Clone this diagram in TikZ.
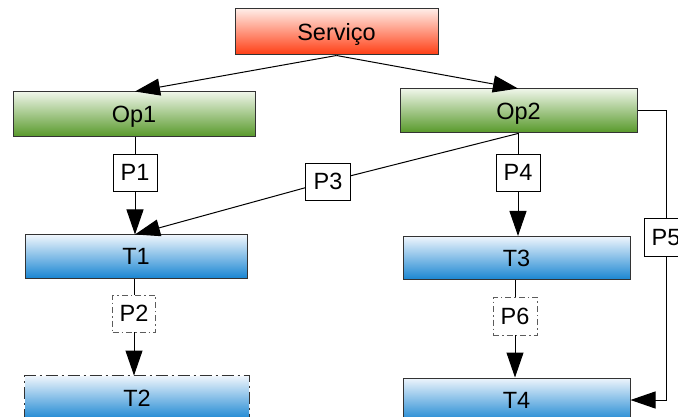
\documentclass[tikz,border=0pt]{standalone}
\usepackage{fontspec}
\setmainfont{Liberation Sans}
\usetikzlibrary{arrows.meta}
\definecolor{redtop}{RGB}{255,236,230}
\definecolor{redbot}{RGB}{255,60,18}
\definecolor{greentop}{RGB}{238,245,232}
\definecolor{greenbot}{RGB}{86,152,40}
\definecolor{bluetop}{RGB}{238,245,252}
\definecolor{bluebot}{RGB}{26,134,210}
\definecolor{edge}{RGB}{51,51,51}
\tikzset{
  capcentre/.style={text height=16.8pt, text depth=0pt},
  box/.style={draw=edge, line width=1pt, minimum height=44pt, inner sep=0pt,
    font=\fontsize{23.5}{28}\selectfont, capcentre, anchor=center},
  srvbox/.style={box, top color=redtop, bottom color=redbot},
  opbox/.style={box, top color=greentop, bottom color=greenbot},
  taskbox/.style={box, top color=bluetop, bottom color=bluebot},
  pbox/.style={draw=black, line width=0.9pt, fill=white, minimum width=44pt,
    minimum height=37pt, inner sep=0pt, font=\fontsize{23.5}{28}\selectfont, capcentre},
  pdash/.style={pbox, draw=edge!80, dash pattern=on 6pt off 3pt on 1.5pt off 3pt},
  link/.style={draw=black, line width=1pt},
  arr/.style={link, -{Triangle[length=25pt,width=17pt]}}
}
\begin{document}
\begin{tikzpicture}[x=1pt,y=-1pt]
  \clip (0,0) rectangle (678,417);
  \useasboundingbox (0,0) rectangle (678,417);

  % process boxes
  \node[srvbox, minimum width=203pt, minimum height=46pt] (srv) at (336.5,32) {Serviço};
  \node[opbox, minimum width=242pt, minimum height=45pt] (op1) at (134,114.5) {Op1};
  \node[opbox, minimum width=237pt] (op2) at (518.5,111) {Op2};
  \node[taskbox, minimum width=222pt, minimum height=43pt] (t1) at (136,256.5) {T1};
  \node[taskbox, minimum width=227pt, minimum height=43pt] (t3) at (516.5,258) {T3};
  \node[taskbox, minimum width=224pt, draw=none] (t2) at (137,398) {T2};
  \node[taskbox, minimum width=227pt] (t4) at (516.5,400) {T4};

  % dash-dotted outline of T2
  \draw[edge, line width=1pt, dash pattern=on 12pt off 4pt on 2pt off 4pt]
    (t2.south west) -- (t2.north west) -- (t2.north east) -- (t2.south east);

  % parameter labels
  \node[pbox] (p1) at (135,172.5) {P1};
  \node[pbox] (p4) at (518,172.5) {P4};
  \node[pbox, minimum width=45pt] (p3) at (328,181.5) {P3};
  \node[pbox, minimum height=38pt] (p5) at (666,237) {P5};
  \node[pdash, minimum width=43pt] (p2) at (134,313.5) {P2};
  \node[pdash, minimum height=38pt] (p6) at (515,316) {P6};

  % connectors
  \draw[arr] (srv.south) -- (op1.north -| p1);
  \draw[arr] (srv.south) -- (op2.north -| p4);

  \draw[link] (op1.south -| p1) -- (p1.north);
  \draw[arr] (p1.south) -- (t1.north -| p1);

  \draw[link] (op2.south -| p4) -- (p3);
  \draw[arr] (p3) -- (t1.north -| p1);

  \draw[link] (op2.south -| p4) -- (p4.north);
  \draw[arr] (p4.south) -- (t3.north -| p4);

  \draw[link] (t1.south -| p2) -- (p2.north);
  \draw[arr] (p2.south) -- (t2.north -| p2);

  \draw[link] (t3.south -| p6) -- (p6.north);
  \draw[arr] (p6.south) -- (t4.north -| p6);

  \draw[link] (op2.east) -| (p5.north);
  \draw[arr] (p5.south) |- (t4.east);

  % redraw P3 over its connector
  \node[pbox, minimum width=45pt] at (p3) {P3};
\end{tikzpicture}
\end{document}
